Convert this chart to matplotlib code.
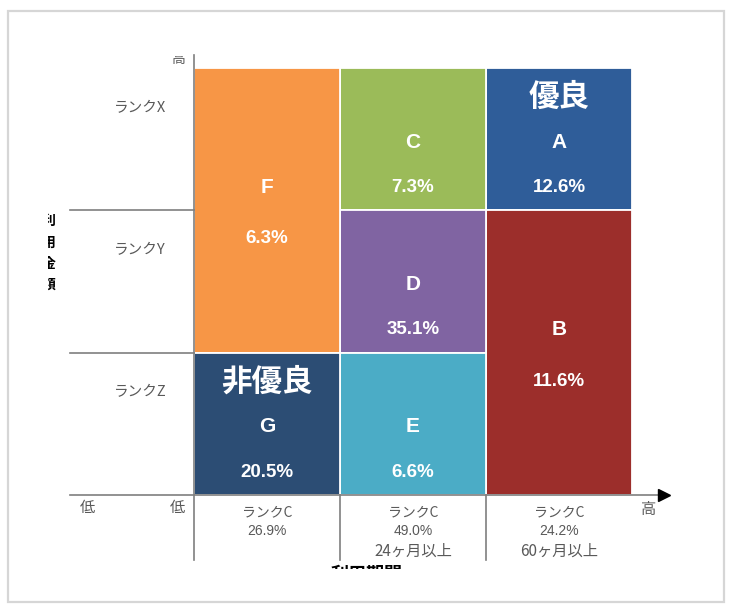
import matplotlib
matplotlib.use("Agg")
import matplotlib.pyplot as plt
from matplotlib.patches import Rectangle
from matplotlib.transforms import Bbox

JP = ["Noto Sans CJK JP", "DejaVu Sans"]
LATIN = ["Liberation Sans", "DejaVu Sans"]
GREY = "#595959"

# segment matrix: column = usage period band, row = usage amount band
segments = ["A", "B", "C", "D", "E", "F", "G"]
shares = [12.6, 11.6, 7.3, 35.1, 6.6, 6.3, 20.5]
seg_col = [2, 2, 1, 1, 1, 0, 0]
seg_row = [2, 0, 2, 1, 0, 1, 0]
seg_rows = [1, 2, 1, 1, 1, 2, 1]
seg_tag = {"A": "優良", "G": "非優良"}
seg_color = {"A": "#2F5D99", "B": "#9C2E2B", "C": "#9BBB59", "D": "#8064A2",
             "E": "#4BACC6", "F": "#F79646", "G": "#2C4D74"}

row_labels = ["ランクZ", "ランクY", "ランクX"]
col_rank = ["ランクC", "ランクC", "ランクC"]
col_share = [26.9, 49.0, 24.2]
col_period = ["", "24ヶ月以上", "60ヶ月以上"]

fig = plt.figure(figsize=(7.29, 6.05), dpi=100)
fig.patch.set_facecolor("white")

# outer frame of the slide
fig.patches.append(Rectangle((8 / 729, 3 / 605), 716 / 729, 591 / 605,
                             transform=fig.transFigure, fill=False,
                             edgecolor="#d6d6d6", lw=1.6))

ax = fig.add_axes([194 / 729, 110 / 605, 438 / 729, 427 / 605])
ax.set_xlim(0, 3)
ax.set_ylim(0, 3)
ax.axis("off")

for seg, share, c, r, n in zip(segments, shares, seg_col, seg_row, seg_rows):
    ax.add_patch(Rectangle((c, r), 1, n, facecolor=seg_color[seg],
                           edgecolor="white", lw=1.3))
    cx, cy = c + 0.5, r + n / 2
    if n == 1:
        y_letter, y_pct = cy - 0.02, cy - 0.34
    else:
        y_letter, y_pct = cy + 0.16, cy - 0.20
    ax.text(cx, y_letter, seg, color="white", fontsize=15, family=LATIN,
            weight="bold", ha="center", va="center")
    ax.text(cx, y_pct, f"{share}%", color="white", fontsize=13.5,
            family=LATIN, weight="bold", ha="center", va="center")
    if seg in seg_tag:
        ax.text(cx, cy + 0.30, seg_tag[seg], color="white", fontsize=22,
                family=JP, weight="bold", ha="center", va="center")

# axes: vertical amount axis and horizontal period axis with arrow
line_kw = dict(color="#7f7f7f", lw=1.2, clip_on=False)
ax.plot([0, 0], [-0.46, 3.09], **line_kw)
ax.plot([-0.85, 3.2], [0, 0], **line_kw)
ax.plot([3.22], [0], marker=">", ms=9, color="black", clip_on=False)
for r in (1, 2):
    ax.plot([-0.85, 0], [r, r], **line_kw)
for c in (1, 2):
    ax.plot([c, c], [0, -0.46], **line_kw)

for r, lab in enumerate(row_labels):
    ax.text(-0.37, r + 0.72, lab, color=GREY, fontsize=10.5, family=JP,
            ha="center", va="center")

for c, (rk, sh, pr) in enumerate(zip(col_rank, col_share, col_period)):
    ax.text(c + 0.5, -0.12, rk, color=GREY, fontsize=10, family=JP,
            ha="center", va="center")
    ax.text(c + 0.5, -0.25, f"{sh}%", color=GREY, fontsize=10, family=LATIN,
            ha="center", va="center")
    if pr:
        ax.text(c + 0.5, -0.395, pr, color=GREY, fontsize=11, family=JP,
                ha="center", va="center")

ax.text(-0.73, -0.085, "低", color=GREY, fontsize=11, family=JP,
        ha="center", va="center")
ax.text(-0.115, -0.085, "低", color=GREY, fontsize=11, family=JP,
        ha="center", va="center")
ax.text(3.115, -0.10, "高", color=GREY, fontsize=11, family=JP,
        ha="center", va="center")

# labels partly cut off by the slide edge
top_hi = ax.text(-0.11, 3.06, "高", color=GREY, fontsize=10, family=JP,
                 ha="center", va="center")
top_hi.set_clip_box(Bbox.from_extents(150, 0, 220, 605 - 56))
top_hi.set_clip_on(True)

for i, ch in enumerate("利用金額"):
    t = ax.text(-0.997, 1.925 - i * 0.15, ch, color="black", fontsize=10,
                family=JP, weight="bold", ha="center", va="center")
    t.set_clip_box(Bbox.from_extents(48, 0, 120, 605))
    t.set_clip_on(True)

xlab = ax.text(1.185, -0.56, "利用期間", color="black", fontsize=13,
               family=JP, weight="bold", ha="center", va="center")
xlab.set_clip_box(Bbox.from_extents(250, 605 - 569, 480, 605 - 540))
xlab.set_clip_on(True)

fig.savefig("out.png", dpi=100)
